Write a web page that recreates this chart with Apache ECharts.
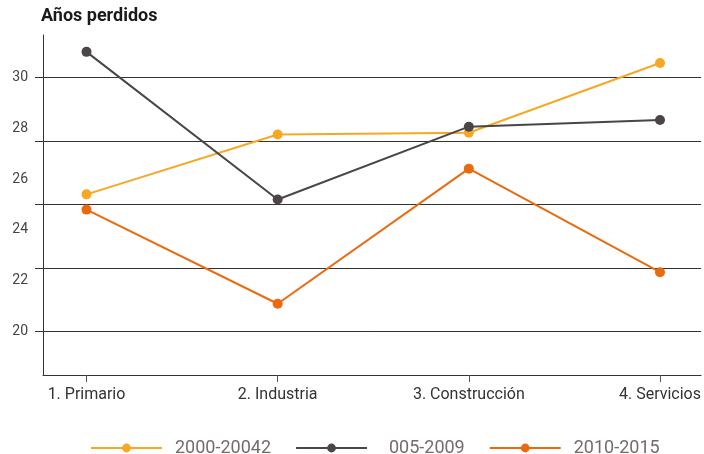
<!DOCTYPE html>
<html>
<head>
<meta charset="utf-8">
<script src="https://cdn.jsdelivr.net/npm/echarts@6/dist/echarts.min.js"></script>
<style>html,body{margin:0;padding:0;background:#fff}#c{width:704px;height:454px}</style>
</head>
<body>
<div id="c"></div>
<script>
var categories = ['1. Primario', '2. Industria', '3. Construcción', '4. Servicios'];
var seriesNames = ['2000-20042', '  005-2009', '2010-2015'];
var s2000 = [25.4, 27.75, 27.82, 30.56];
var s2005 = [31.0, 25.2, 28.06, 28.32];
var s2010 = [24.8, 21.1, 26.41, 22.34];
var yLabelValues = [20, 22, 24, 26, 28, 30];
var yGridValues = [20, 22.5, 25, 27.5, 30];
var colors = ['#F7A823', '#4B4545', '#EB6A0E'];

function toPairs(arr) { return arr.map(function (v, i) { return [i, v]; }); }
var allSeries = [s2000, s2005, s2010];

var chart = echarts.init(document.getElementById('c'), null, { renderer: 'canvas' });
chart.setOption({
  animation: false,
  backgroundColor: '#fff',
  title: {
    text: 'Años perdidos', left: 41, top: 7, padding: 0,
    textStyle: { fontFamily: 'Roboto', fontSize: 18, fontWeight: 'bold', color: '#1a1a1a' }
  },
  legend: {
    left: 85, top: 434, itemWidth: 71, itemHeight: 11, itemGap: 24,
    textStyle: { fontFamily: 'Roboto', fontSize: 18, color: '#756b6b', padding: [0, 0, 0, 8] },
    data: seriesNames
  },
  grid: { left: 43, right: 0, top: 35, bottom: 79, containLabel: false },
  xAxis: {
    type: 'value', min: -0.2276, max: 3.215,
    axisLine: { show: true, onZero: false, lineStyle: { color: '#333', width: 1 } },
    axisTick: { show: true, length: 7, customValues: [0, 1, 2, 3], lineStyle: { color: '#555' } },
    axisLabel: {
      customValues: [0, 1, 2, 3], margin: 12,
      fontFamily: 'Roboto', fontSize: 16, color: '#333',
      formatter: function (v) { return categories[Math.round(v)]; }
    },
    splitLine: { show: false }
  },
  yAxis: {
    type: 'value', min: 18.3, max: 31.663,
    axisLine: { show: true, onZero: false, lineStyle: { color: '#333', width: 1 } },
    axisTick: { show: true, length: 8, customValues: yGridValues, lineStyle: { color: '#333' } },
    axisLabel: {
      customValues: yLabelValues, margin: 15,
      fontFamily: 'Roboto', fontSize: 14, color: '#444'
    },
    splitLine: { show: true, lineStyle: { color: '#333', width: 1 } }
  },
  series: allSeries.map(function (arr, k) {
    return {
      name: seriesNames[k], type: 'line', data: toPairs(arr),
      symbol: 'circle', symbolSize: 10,
      itemStyle: { color: colors[k] },
      lineStyle: { color: colors[k], width: 2 },
      z: 3
    };
  })
});
</script>
</body>
</html>
